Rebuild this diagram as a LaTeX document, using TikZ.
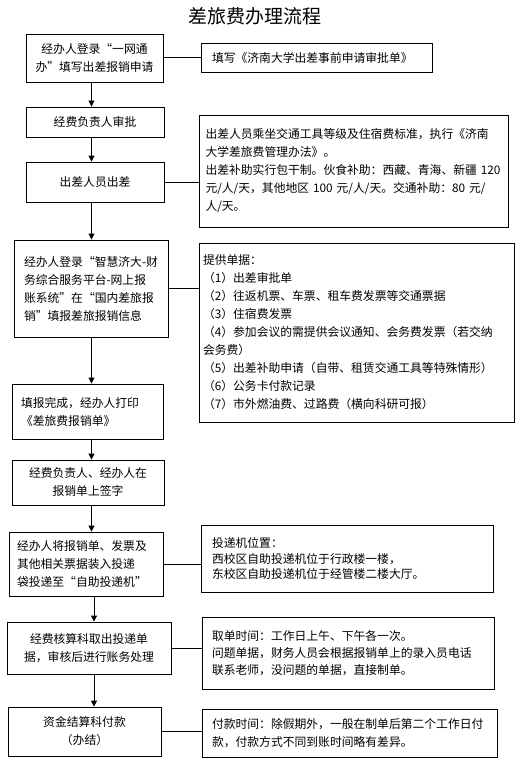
\documentclass[tikz,border=0pt]{standalone}
\usepackage{fontspec}
\setmainfont{Noto Sans CJK SC}
\usetikzlibrary{arrows.meta}
\begin{document}
\begin{tikzpicture}[x=1pt,y=-1pt,
  box/.style={draw, line width=0.9pt, inner sep=0pt, font=\fontsize{11.8}{18}\selectfont},
  arr/.style={line width=0.9pt, -{Triangle[length=6pt,width=6pt]}},
  ln/.style={line width=0.9pt}]
\useasboundingbox (0,0) rectangle (526,768);
\node[font=\fontsize{19}{22}\selectfont] (title) at (255,16) {差旅费办理流程};
\coordinate (sp) at (91.5,0);
\coordinate (sq) at (94,0);
% left column
\node[box, minimum width=137pt, minimum height=48pt, align=center] (b1) at (94.5,58) {经办人登录“一网通\\办”填写出差报销申请};
\node[box, minimum width=138pt, minimum height=30pt, align=center] (b2) at (95,122) {经费负责人审批};
\node[box, minimum width=138pt, minimum height=40pt, align=center] (b3) at (95,182) {出差人员出差};
\node[box, minimum width=154pt, minimum height=97pt, text width=134pt, align=left] (b4) at (91,288.5) {经办人登录“智慧济大-财\\务综合服务平台-网上报\\账系统”在“国内差旅报\\销”填报差旅报销信息};
\node[box, minimum width=151pt, minimum height=55pt, text width=133pt, align=left] (b5) at (87.5,411.5) {填报完成，经办人打印\\《差旅费报销单》};
\node[box, minimum width=152pt, minimum height=45pt, align=center] (b6) at (88,482.5) {经费负责人、经办人在\\报销单上签字};
\node[box, minimum width=154pt, minimum height=64pt, text width=138pt, align=left] (b7) at (86,564) {经办人将报销单、发票及\\其他相关票据装入投递\\袋投递至“自助投递机”};
\node[box, minimum width=164pt, minimum height=52pt, align=center] (b8) at (89,648) {经费核算科取出投递单\\据，审核后进行账务处理};
\node[box, minimum width=153pt, minimum height=49pt, align=center] (b9) at (84.5,731.5) {资金结算科付款\\（办结）};
% right column
\node[box, minimum width=231pt, minimum height=29pt, text width=209pt, align=left] (r1) at (316.5,57.5) {填写《济南大学出差事前申请审批单》};
\node[box, minimum width=309pt, minimum height=112pt, text width=296pt, align=left] (r2) at (353.5,171) {出差人员乘坐交通工具等级及住宿费标准，执行《济南\\大学差旅费管理办法》。\\出差补助实行包干制。伙食补助：西藏、青海、新疆~120\\元/人/天，其他地区~100~元/人/天。交通补助：80~元/\\人/天。};
\node[box, minimum width=315pt, minimum height=179pt, text width=307pt, align=left] (r4) at (356.5,332.5) {提供单据：\\（1）出差审批单\\（2）往返机票、车票、租车费发票等交通票据\\（3）住宿费发票\\（4）参加会议的需提供会议通知、会务费发票（若交纳\\会务费）\\（5）出差补助申请（自带、租赁交通工具等特殊情形）\\（6）公务卡付款记录\\（7）市外燃油费、过路费（横向科研可报）};
\node[box, minimum width=292pt, minimum height=67pt, text width=270pt, align=left, font=\fontsize{11.8}{15.5}\selectfont] (r7) at (347,558.5) {投递机位置：\\西校区自助投递机位于行政楼一楼，\\东校区自助投递机位于经管楼二楼大厅。};
\node[box, minimum width=292pt, minimum height=72pt, text width=272pt, align=left, font=\fontsize{11.8}{17}\selectfont] (r8) at (348,653) {取单时间：工作日上午、下午各一次。\\问题单据，财务人员会根据报销单上的录入员电话\\联系老师，没问题的单据，直接制单。\\[4pt]};
\node[box, minimum width=295pt, minimum height=48pt, text width=275pt, align=left] (r9) at (349.5,733) {付款时间：除假期外，一般在制单后第二个工作日付\\款，付款方式不同到账时间略有差异。};
% arrows
\draw[arr] (b1.south -| sp) -- (b2.north -| sp);
\draw[arr] (b2.south -| sp) -- (b3.north -| sp);
\draw[arr] (b3.south -| sp) -- (b4.north -| sp);
\draw[arr] (b4.south -| sp) -- (b5.north -| sp);
\draw[arr] (b5.south -| sp) -- (b6.north -| sp);
\draw[arr] (b6.south -| sp) -- (b7.north -| sp);
\draw[arr] (b7.south -| sq) -- (b8.north -| sq);
\draw[arr] (b8.south -| sq) -- (b9.north -| sq);
% side connectors
\draw[ln] (r1.west -| b1.east) -- (r1.west);
\draw[ln] (b3.east) -- (b3.east -| r2.west);
\draw[ln] (b4.east) -- (b4.east -| r4.west);
\draw[ln] (b7.east) -- (b7.east -| r7.west);
\draw[ln] (b8.east) -- (b8.east -| r8.west);
\draw[ln] (b9.east) -- (b9.east -| r9.west);
\end{tikzpicture}
\end{document}
